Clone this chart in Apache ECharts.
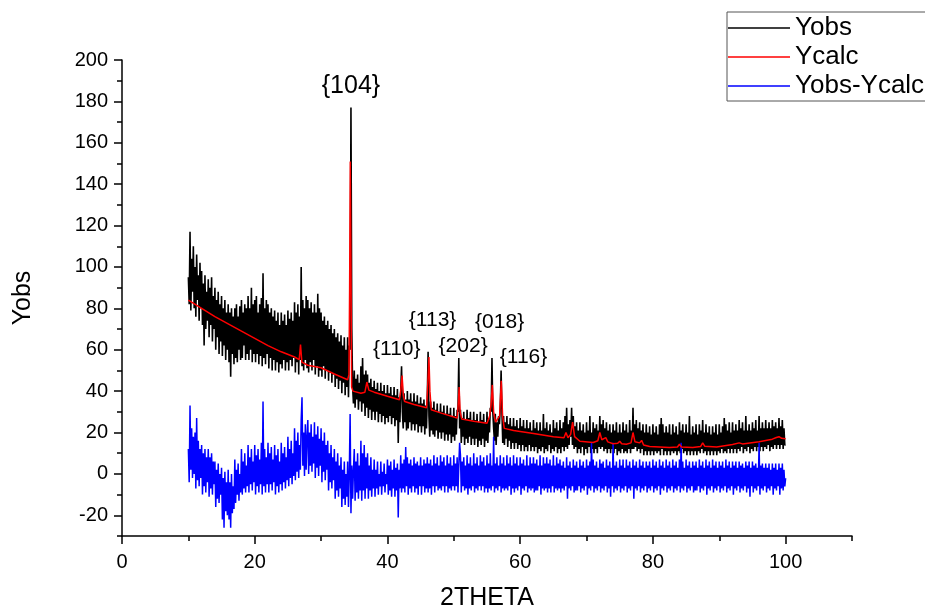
<!DOCTYPE html>
<html>
<head>
<meta charset="utf-8">
<script src="https://cdn.jsdelivr.net/npm/echarts@6/dist/echarts.min.js"></script>
<style>html,body{margin:0;padding:0;background:#fff;overflow:hidden}#c{width:925px;height:607px}</style>
</head>
<body>
<div id="c"></div>
<script>
// ---------- data (one row = one degree, 8 readings) ----------
const obsStart = 10, obsStep = 0.125;
const yobs = [
  95, 82, 117, 79, 104, 88, 110, 80,
  100, 76, 106, 84, 96, 74, 102, 80,
  98, 72, 92, 62, 96, 70, 88, 74,
  94, 66, 90, 72, 95, 64, 86, 70,
  90, 60, 84, 66, 88, 58, 82, 64,
  86, 57, 80, 62, 84, 55, 78, 60,
  82, 54, 78, 47, 80, 58, 76, 53,
  80, 56, 82, 54, 76, 60, 81, 55,
  84, 56, 78, 62, 82, 55, 80, 58,
  86, 55, 80, 60, 90, 54, 82, 58,
  84, 54, 86, 58, 78, 53, 82, 57,
  85, 52, 97, 56, 80, 53, 84, 58,
  82, 51, 78, 56, 80, 50, 76, 55,
  79, 50, 74, 54, 78, 49, 72, 53,
  78, 51, 74, 55, 77, 50, 72, 54,
  79, 50, 75, 55, 78, 52, 74, 56,
  83, 49, 78, 54, 82, 48, 76, 55,
  100, 52, 84, 50, 80, 55, 86, 51,
  84, 49, 80, 54, 83, 50, 78, 55,
  82, 48, 78, 52, 87, 47, 80, 50,
  78, 47, 74, 52, 76, 46, 72, 50,
  74, 45, 70, 49, 72, 44, 68, 48,
  70, 42, 66, 46, 68, 41, 64, 45,
  67, 39, 62, 44, 66, 38, 60, 42,
  66, 37, 62, 60, 177, 70, 42, 34,
  50, 32, 46, 36, 48, 31, 44, 35,
  52, 30, 56, 34, 48, 28, 50, 32,
  48, 27, 44, 31, 46, 26, 42, 30,
  45, 26, 41, 30, 44, 25, 40, 29,
  44, 25, 40, 28, 43, 24, 39, 27,
  43, 25, 39, 28, 42, 24, 38, 27,
  42, 23, 38, 26, 41, 15, 37, 25,
  40, 52, 30, 22, 39, 25, 36, 21,
  40, 22, 36, 25, 39, 21, 35, 24,
  39, 21, 35, 24, 38, 20, 34, 23,
  37, 20, 34, 23, 36, 19, 33, 22,
  36, 59, 28, 18, 35, 21, 32, 19,
  35, 18, 31, 21, 34, 17, 30, 20,
  34, 17, 30, 20, 33, 16, 29, 19,
  33, 16, 29, 19, 32, 15, 28, 18,
  32, 16, 28, 19, 31, 30, 56, 22,
  31, 15, 27, 18, 30, 14, 26, 17,
  31, 15, 27, 18, 30, 14, 26, 17,
  30, 14, 26, 17, 29, 13, 25, 16,
  30, 14, 26, 17, 29, 13, 25, 16,
  30, 15, 26, 20, 32, 30, 56, 30,
  22, 16, 29, 14, 25, 18, 28, 24,
  32, 50, 30, 15, 28, 14, 25, 17,
  28, 13, 24, 16, 27, 12, 23, 15,
  27, 12, 23, 15, 26, 12, 22, 14,
  27, 11, 23, 14, 26, 11, 22, 13,
  26, 11, 22, 14, 25, 11, 21, 13,
  26, 11, 22, 13, 25, 10, 21, 12,
  25, 11, 21, 13, 29, 10, 22, 12,
  25, 11, 21, 14, 24, 10, 20, 12,
  26, 11, 22, 13, 25, 10, 21, 12,
  26, 10, 22, 13, 25, 11, 28, 13,
  32, 12, 24, 14, 26, 18, 32, 14,
  28, 12, 23, 13, 25, 10, 21, 12,
  25, 10, 21, 13, 24, 9, 20, 12,
  25, 10, 21, 13, 28, 10, 20, 12,
  25, 10, 22, 12, 24, 10, 21, 13,
  28, 12, 24, 13, 26, 11, 22, 12,
  25, 10, 21, 12, 24, 10, 20, 12,
  24, 10, 21, 12, 25, 9, 20, 11,
  24, 10, 20, 12, 25, 10, 21, 11,
  24, 10, 20, 12, 26, 10, 21, 12,
  32, 12, 24, 13, 26, 11, 22, 12,
  25, 10, 21, 12, 24, 9, 20, 11,
  24, 9, 20, 11, 23, 9, 19, 11,
  24, 9, 20, 11, 23, 10, 19, 11,
  24, 9, 27, 12, 24, 9, 20, 11,
  23, 9, 20, 11, 24, 9, 19, 11,
  24, 10, 20, 11, 23, 9, 19, 11,
  25, 10, 21, 12, 24, 10, 20, 11,
  24, 9, 20, 11, 28, 9, 19, 11,
  23, 9, 20, 11, 24, 9, 19, 11,
  24, 10, 21, 12, 26, 10, 20, 11,
  24, 9, 20, 11, 23, 9, 19, 11,
  23, 9, 20, 11, 24, 9, 19, 11,
  24, 10, 20, 12, 23, 10, 27, 11,
  24, 10, 21, 12, 25, 10, 20, 12,
  25, 10, 21, 12, 24, 10, 21, 12,
  26, 11, 22, 13, 25, 10, 21, 12,
  28, 11, 21, 13, 24, 10, 21, 12,
  25, 11, 22, 13, 26, 11, 21, 13,
  28, 11, 22, 13, 25, 11, 22, 13,
  26, 12, 22, 14, 25, 11, 22, 13,
  26, 12, 23, 14, 25, 12, 22, 14,
  27, 12, 23, 14, 26, 12, 22, 14,
  14
];
const ydiff = [
  12, -4, 33, 2, 22, -2, 18, 0,
  20, -7, 27, -3, 16, -6, 12, -2,
  14, -10, 10, -6, 12, -9, 8, -4,
  12, -11, 8, -7, 10, -10, 6, -5,
  6, -16, 2, -12, 5, -14, 0, -10,
  3, -22, -2, -26, 1, -18, -4, -20,
  2, -22, -4, -26, 0, -19, -6, -17,
  7, -14, 2, -10, 5, -13, 0, -9,
  12, -10, 6, -7, 10, -9, 4, -6,
  14, -9, 8, -5, 12, -8, 6, -4,
  14, -10, 9, -6, 12, -9, 7, -5,
  15, -10, 35, -6, 12, -9, 8, -5,
  15, -9, 10, -5, 13, -8, 7, -4,
  14, -10, 9, -6, 12, -9, 6, -5,
  15, -8, 10, -4, 13, -7, 8, -3,
  18, -6, 12, -2, 16, -5, 10, -1,
  22, -3, 16, 1, 20, -2, 14, 2,
  26, 37, 4, 20, -1, 24, 2, 18,
  26, 0, 20, 4, 24, 1, 18, 5,
  25, -2, 19, 3, 23, -1, 17, 4,
  22, -4, 16, 1, 20, -3, 14, 2,
  16, -8, 10, -4, 14, -7, 8, -3,
  12, -12, 6, -8, 10, -11, 4, -7,
  8, -16, 2, -12, 6, -15, 0, -11,
  6, -16, 0, 29, -19, 4, -12, 2,
  12, -13, 6, -9, 10, -12, 4, -8,
  16, -13, 10, -8, 14, -12, 8, -7,
  10, -12, 4, -8, 8, -11, 2, -7,
  7, -11, 2, -7, 6, -10, 0, -6,
  6, -10, 1, -6, 5, -9, 0, -5,
  7, -10, 4, -8, 6, -11, 2, -7,
  7, -11, 3, -8, 5, -21, 2, -7,
  9, -9, 5, -7, 7, -9, 13, -6,
  8, -10, 5, -7, 7, -9, 4, -6,
  8, -9, 5, -7, 6, -10, 4, -6,
  8, -10, 4, -6, 7, -9, 5, -7,
  8, -9, 5, -7, 7, -10, 4, -6,
  9, -9, 5, -6, 8, -8, 4, -7,
  9, -8, 6, -6, 8, -9, 4, -6,
  9, -9, 5, -7, 8, -8, 4, -6,
  9, -8, 5, -6, 8, -9, 4, 15,
  9, -9, 6, -6, 8, -8, 4, -7,
  9, -10, 5, -7, 8, -8, 4, -6,
  10, -9, 5, -7, 8, -8, 4, -6,
  9, -8, 6, -6, 8, -9, 4, -7,
  9, -9, 5, -7, 10, -8, 4, -6,
  18, -9, 5, -7, 8, -8, 4, -6,
  9, -9, 5, -7, 8, -8, 4, -7,
  9, -8, 5, -6, 8, -10, 4, -7,
  9, -9, 5, -7, 8, -8, 4, -6,
  8, -10, 5, -7, 7, -8, 4, -6,
  9, -9, 4, -7, 8, -8, 5, -7,
  8, -9, 5, -8, 7, -8, 4, -6,
  9, -10, 4, -7, 8, -8, 5, -7,
  8, -9, 5, -7, 7, -9, 4, -6,
  9, -9, 4, -7, 8, -8, 5, -7,
  7, -9, 4, -7, 6, -8, 3, -6,
  8, -12, 4, -7, 6, -8, 3, -6,
  7, -9, 4, -8, 6, -8, 3, -6,
  7, -9, 4, -7, 6, -8, 3, -6,
  7, -10, 4, -7, 6, -8, 15, -6,
  7, -9, 4, -7, 6, -8, 3, -6,
  7, -9, 5, -7, 6, -8, 3, -6,
  7, -9, 4, -7, 6, -11, 3, -6,
  15, -9, 4, -7, 6, -8, 3, -6,
  7, -9, 4, -7, 7, -8, 3, -6,
  7, -9, 4, -7, 6, -8, 3, -6,
  7, -12, 4, -7, 6, -8, 3, -6,
  7, -9, 4, -7, 6, -8, 3, -6,
  6, -9, 4, -7, 6, -8, 3, -6,
  7, -9, 4, -7, 6, -8, 3, -6,
  7, -10, 4, -7, 6, -8, 3, -6,
  7, -9, 4, -7, 6, -8, 3, -6,
  7, -9, 4, -7, 6, -8, 3, -6,
  7, -9, 15, -7, 6, -8, 3, -6,
  7, -9, 4, -7, 6, -8, 3, -6,
  6, -9, 4, -8, 6, -8, 3, -6,
  7, -9, 4, -7, 6, -8, 3, -6,
  7, -10, 4, -7, 6, -8, 3, -6,
  7, -9, 4, -7, 6, -8, 3, -6,
  6, -9, 4, -7, 6, -8, 3, -6,
  7, -9, 4, -7, 6, -8, 3, -6,
  6, -10, 4, -7, 6, -8, 3, -6,
  6, -9, 4, -7, 5, -8, 3, -6,
  6, -9, 4, -7, 6, -11, 3, -6,
  6, -9, 4, -7, 5, -8, 3, -6,
  15, -10, 4, -7, 5, -8, 3, -6,
  5, -9, 3, -7, 5, -8, 2, -6,
  5, -10, 3, -7, 5, -8, 2, -6,
  5, -10, 3, -7, 5, -8, 2, -6,
  -2
];
const calcX = [10, 12, 14, 16, 18, 20, 22, 24, 26, 26.7, 26.9, 27.1, 28, 30, 32, 34, 34.2, 34.3, 34.4, 34.5, 34.6, 34.8,
  36, 36.6, 36.9, 37.2, 37.5, 38, 40, 41.8, 42.0, 42.2, 42.4, 42.6, 44, 45.9, 46.1, 46.25, 46.4, 46.6, 48, 50.5, 50.7, 50.8,
  50.95, 51.2, 53, 55, 55.4, 55.6, 55.8, 56.0, 56.3, 56.9, 57.15, 57.35, 57.6, 59, 62, 65, 66.6, 66.9, 67.2, 67.6, 67.9,
  68.2, 69, 71, 71.7, 72, 72.3, 72.9, 73.2, 74, 74.7, 75, 75.3, 76, 76.7, 77, 77.3, 78, 78.3, 78.6, 79.5, 82.5, 83.7, 84,
  84.3, 86, 87.2, 87.5, 87.8, 89.6, 92, 93, 93.5, 96, 98, 98.6, 99, 99.4, 100];
const calcY = [84, 80, 76, 72.5, 69, 65.5, 62, 59, 56.5, 55.2, 62.5, 54, 52.5, 51.3, 48.3, 45.5, 48, 90, 151, 100, 42, 40,
  39, 39.5, 44.4, 40.5, 40, 39.5, 37.5, 35.8, 40, 47.5, 38, 35, 33.5, 32, 45, 56.5, 40, 31, 29.5, 27, 35, 42,
  30, 26.5, 25.5, 24.5, 28, 33, 43, 30, 25, 28, 45, 28, 22, 21, 19.5, 18, 17.5, 20, 17.5, 19, 25,
  18, 15.8, 15.2, 16, 20, 16.5, 17.5, 15.5, 14.6, 14.8, 15.8, 14.6, 14.3, 15, 20, 15.5, 15, 16.2, 14, 13.2, 12.8, 13, 14.3,
  13, 12.8, 13.3, 15, 13.4, 13, 14.2, 15, 14.5, 15.5, 16.8, 17.6, 18, 17.2, 17];
const seriesNames = ['Yobs', 'Ycalc', 'Yobs-Ycalc'];
const peakLabels = ['{104}', '{110}', '{113}', '{202}', '{018}', '{116}'];
const peakLabelX = [34.5, 41.4, 46.8, 51.4, 56.9, 60.5];
const peakLabelY = [187.5, 60.4, 74.4, 61.8, 73.4, 56.5];
const xMajorTicks = [0, 20, 40, 60, 80, 100];
const xMinorTicks = [10, 30, 50, 70, 90, 110];
const yMajorTicks = [-20, 0, 20, 40, 60, 80, 100, 120, 140, 160, 180, 200];
const yMinorTicks = [-30, -10, 10, 30, 50, 70, 90, 110, 130, 150, 170, 190];

// ---------- build ----------
const obsData = yobs.map((v, i) => [obsStart + i * obsStep, v]);
const diffData = ydiff.map((v, i) => [obsStart + i * obsStep, v]);
const calcData = calcX.map((x, i) => [x, calcY[i]]);

const FONT = '"Liberation Sans", Arial, sans-serif';
const chart = echarts.init(document.getElementById('c'), null, {renderer: 'canvas', width: 925, height: 607});
const axisLine = {show: true, onZero: false, lineStyle: {color: '#000', width: 1.5}};
const tickStyle = {color: '#000', width: 1.5};
chart.setOption({
  animation: false,
  backgroundColor: '#fff',
  grid: {left: 122, right: 73, top: 60, bottom: 71, containLabel: false, outerBoundsMode: 'none'},
  legend: {
    orient: 'vertical', left: 727, top: 12,
    padding: [3, 30, 2, 1], itemGap: 3,
    itemWidth: 62, itemHeight: 1.5, icon: 'rect',
    borderColor: '#555', borderWidth: 1, backgroundColor: '#fff',
    selectedMode: false,
    textStyle: {fontFamily: FONT, fontSize: 26, color: '#000', lineHeight: 26, padding: [0, 0, 0, 0]},
    data: seriesNames
  },
  xAxis: [{
    type: 'value', min: 0, max: 110, interval: 10,
    name: '2THETA', nameLocation: 'middle', nameGap: 50,
    nameTextStyle: {fontFamily: FONT, fontSize: 25, color: '#000'},
    axisLine: axisLine,
    axisTick: {show: true, length: 8, lineStyle: tickStyle, customValues: xMajorTicks},
    axisLabel: {fontFamily: FONT, fontSize: 20, color: '#000', margin: 16, customValues: xMajorTicks},
    splitLine: {show: false}
  }, {
    type: 'value', min: 0, max: 110, interval: 10, position: 'bottom',
    axisLine: {show: false, onZero: false},
    axisTick: {show: true, length: 5, lineStyle: tickStyle, customValues: xMinorTicks},
    axisLabel: {show: false},
    splitLine: {show: false}
  }],
  yAxis: [{
    type: 'value', min: -30, max: 200, interval: 10,
    name: 'Yobs', nameLocation: 'middle', nameGap: 86, nameRotate: 90,
    nameTextStyle: {fontFamily: FONT, fontSize: 25, color: '#000'},
    axisLine: axisLine,
    axisTick: {show: true, length: 8, lineStyle: tickStyle, customValues: yMajorTicks},
    axisLabel: {fontFamily: FONT, fontSize: 20, color: '#000', margin: 14, customValues: yMajorTicks},
    splitLine: {show: false}
  }, {
    type: 'value', min: -30, max: 200, interval: 10, position: 'left',
    axisLine: {show: false, onZero: false},
    axisTick: {show: true, length: 5, lineStyle: tickStyle, customValues: yMinorTicks},
    axisLabel: {show: false},
    splitLine: {show: false}
  }],
  series: [{
    name: seriesNames[0], type: 'line', data: obsData, showSymbol: false, symbol: 'none',
    lineStyle: {color: '#000', width: 1.6}, itemStyle: {color: '#000'}, z: 2
  }, {
    name: seriesNames[1], type: 'line', data: calcData, showSymbol: false, symbol: 'none',
    lineStyle: {color: '#ff0000', width: 1.5}, itemStyle: {color: '#ff0000'}, z: 4,
    markPoint: {
      symbol: 'circle', symbolSize: 0, silent: true,
      label: {show: true, position: 'inside', color: '#000', fontFamily: FONT, fontSize: 21,
        formatter: p => p.name},
      data: peakLabels.map((t, i) => ({
        name: t, coord: [peakLabelX[i], peakLabelY[i]],
        label: i === 0 ? {fontSize: 25} : {}
      }))
    }
  }, {
    name: seriesNames[2], type: 'line', data: diffData, showSymbol: false, symbol: 'none',
    lineStyle: {color: '#0000ff', width: 1.5}, itemStyle: {color: '#0000ff'}, z: 3
  }]
});
</script>
</body>
</html>
